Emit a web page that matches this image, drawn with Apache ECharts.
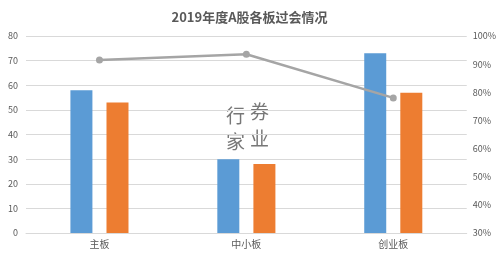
<!DOCTYPE html>
<html><head><meta charset="utf-8">
<script src="https://cdn.jsdelivr.net/npm/echarts@6/dist/echarts.min.js"></script>
<style>html,body{margin:0;padding:0;background:#fff}#c{width:499px;height:261px}</style>
</head><body><div id="c"></div>
<script>
const categories = ['主板', '中小板', '创业板'];
const seriesA = [58, 30, 73];
const seriesB = [53, 28, 57];
const passRate = [91.5, 93.5, 78];
const leftTicks = [0, 80, 10];
const rightTicks = [30, 100, 10];

const chart = echarts.init(document.getElementById('c'), null, {renderer: 'canvas'});
const font = 'Microsoft YaHei, "Noto Sans CJK SC", sans-serif';
chart.setOption({
  animation: false,
  title: {text: '2019年度A股各板过会情况', left: 'center', top: 6,
    textStyle: {fontSize: 13, fontWeight: 'bold', color: '#595959', fontFamily: font}},
  grid: {left: 26, right: 31, top: 36, bottom: 28},
  xAxis: {type: 'category', data: categories,
    axisLine: {lineStyle: {color: '#d9d9d9'}}, axisTick: {show: false},
    axisLabel: {color: '#595959', fontSize: 10, fontFamily: font, margin: 6}},
  yAxis: [
    {type: 'value', min: leftTicks[0], max: leftTicks[1], interval: leftTicks[2],
     axisLine: {show: false}, axisTick: {show: false},
     splitLine: {lineStyle: {color: '#d9d9d9'}},
     axisLabel: {color: '#595959', fontSize: 9, fontFamily: font, margin: 8}},
    {type: 'value', min: rightTicks[0], max: rightTicks[1], interval: rightTicks[2],
     axisLine: {show: false}, axisTick: {show: false}, splitLine: {show: false},
     axisLabel: {color: '#595959', fontSize: 9, fontFamily: font, margin: 6, formatter: '{value}%'}}
  ],
  series: [
    {type: 'bar', data: seriesA, barWidth: 22, barGap: '64%', itemStyle: {color: '#5b9bd5'}},
    {type: 'bar', data: seriesB, barWidth: 22, itemStyle: {color: '#ed7d31'}},
    {type: 'line', yAxisIndex: 1, data: passRate, symbol: 'circle', symbolSize: 7,
     lineStyle: {color: '#a5a5a5', width: 2.5}, itemStyle: {color: '#a5a5a5'}}
  ],
  graphic: [
    {type: 'text', left: 226, top: 106, style: {text: '行', fontSize: 19, fill: '#777', fontFamily: '"Noto Sans CJK SC"'}},
    {type: 'text', left: 250, top: 102, style: {text: '券', fontSize: 19, fill: '#777', fontFamily: '"Noto Sans CJK SC"'}},
    {type: 'text', left: 226, top: 132, style: {text: '家', fontSize: 19, fill: '#777', fontFamily: '"Noto Sans CJK SC"'}},
    {type: 'text', left: 250, top: 129, style: {text: '业', fontSize: 19, fill: '#777', fontFamily: '"Noto Sans CJK SC"'}}
  ]
});
</script></body></html>
